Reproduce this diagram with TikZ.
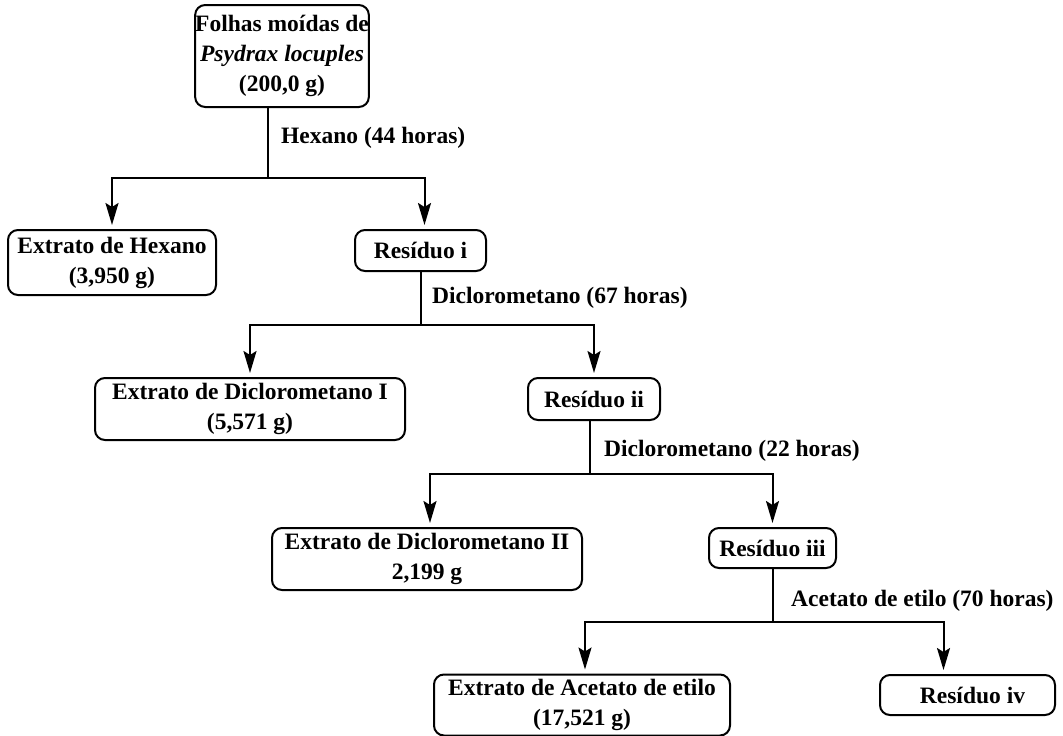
\documentclass[tikz,border=0pt]{standalone}
\usepackage{fontspec}
\setmainfont{Liberation Serif}
\usetikzlibrary{arrows.meta}
\tikzset{
  box/.style={draw, line width=2pt, rounded corners=10pt, align=center, font=\fontsize{23.5}{30}\selectfont\bfseries, inner sep=0pt},
  lbl/.style={anchor=west, font=\fontsize{23.5}{30}\selectfont\bfseries, inner sep=0pt},
  ln/.style={line width=2pt},
  arr/.style={line width=2pt, -{Stealth[length=22pt,width=13pt,inset=4pt]}, shorten >=4pt},
}
\begin{document}
\begin{tikzpicture}[x=1pt,y=-1pt]
\useasboundingbox (0,0) rectangle (1063,736);
% boxes (by corners)
\node[box, minimum width=170pt, minimum height=102pt] (top) at (282,56) {Folhas moídas de\\\textit{Psydrax locuples}\\(200,0 g)};
\node[box, minimum width=208pt, minimum height=65pt] (hex) at (112,262.5) {Extrato de Hexano\\(3,950 g)};
\node[box, minimum width=131pt, minimum height=41pt] (r1) at (420.5,250.5) {Resíduo i};
\node[box, minimum width=310pt, minimum height=62pt] (d1) at (250,409) {Extrato de Diclorometano I\\(5,571 g)};
\node[box, minimum width=132pt, minimum height=42pt] (r2) at (594,399) {Resíduo ii};
\node[box, minimum width=310pt, minimum height=62pt] (d2) at (427,559) {Extrato de Diclorometano II\\2,199 g};
\node[box, minimum width=127pt, minimum height=40pt] (r3) at (772.5,548) {Resíduo iii};
\node[box, minimum width=296pt, minimum height=61pt] (ac) at (582,705) {Extrato de Acetato de etilo\\(17,521 g)};
\node[box, minimum width=175pt, minimum height=40pt] (r4) at (967.5,695) {\hspace*{10pt}Resíduo iv};
% junctions
\coordinate (j1) at (268,178);
\coordinate (j2) at (420.5,325);
\coordinate (j3) at (590,474);
\coordinate (j4) at (772.5,622);
% connectors
\draw[ln] (top.south -| j1) -- (j1);
\draw[arr] (j1) -| (hex.north);
\draw[arr] (j1) -| ([xshift=4pt]r1.north);
\draw[ln] (r1.south) -- (j2);
\draw[arr] (j2) -| (d1.north);
\draw[arr] (j2) -| (r2.north);
\draw[ln] (r2.south -| j3) -- (j3);
\draw[arr] (j3) -| ([xshift=3pt]d2.north);
\draw[arr] (j3) -| (r3.north);
\draw[ln] (r3.south) -- (j4);
\draw[arr] (j4) -| ([xshift=3pt]ac.north);
\draw[arr] (j4) -| ([xshift=-24pt]r4.north);
% labels
\node[lbl] (l1) at (281,138) {Hexano (44 horas)};
\node[lbl] (l2) at (432,298) {Diclorometano (67 horas)};
\node[lbl] (l3) at (604,451) {Diclorometano (22 horas)};
\node[lbl] (l4) at (791,601) {Acetato de etilo (70 horas)};
\end{tikzpicture}
\end{document}
